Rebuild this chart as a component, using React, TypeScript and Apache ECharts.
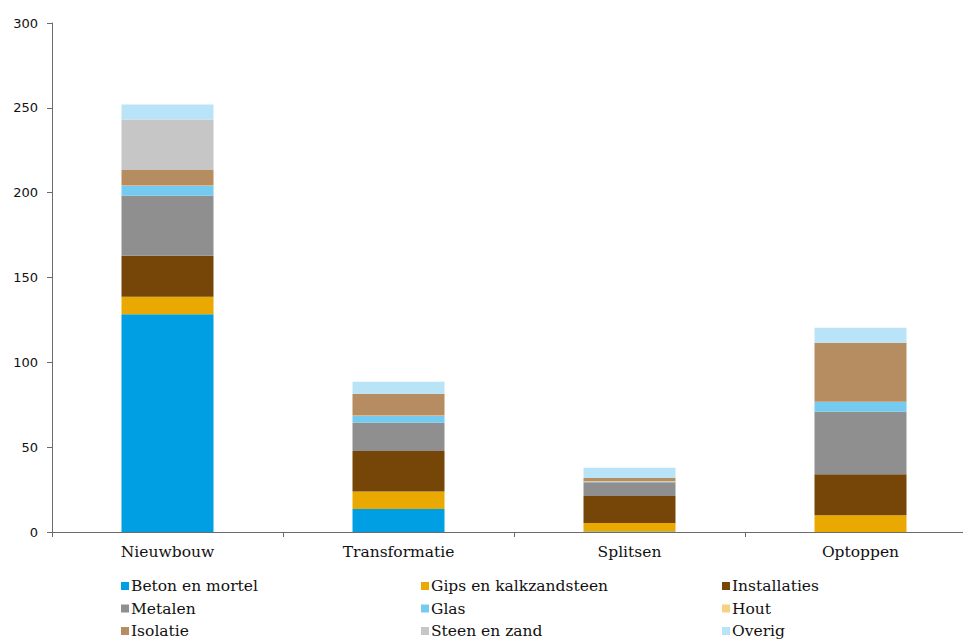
import React, { useEffect, useRef } from "react";
import * as echarts from "echarts";

// Bouwvormen op de x-as
const categories = ["Nieuwbouw", "Transformatie", "Splitsen", "Optoppen"];

// Materiaalgroepen (gestapeld, van onder naar boven)
const betonEnMortel = [128.3, 13.6, 0.3, 0];
const gipsEnKalkzandsteen = [10.4, 10.2, 5.0, 9.8];
const installaties = [24.1, 23.9, 15.9, 24.2];
const metalen = [35.4, 16.7, 8.1, 36.9];
const glas = [5.7, 4.0, 0.3, 5.7];
const hout = [0.3, 0.2, 0.3, 0.2];
const isolatie = [9.2, 12.9, 1.9, 34.8];
const steenEnZand = [29.7, 0, 0, 0];
const overig = [8.8, 7.1, 6.1, 8.8];

const yTicks = { min: 0, max: 300, interval: 50 };

const seriesDefs = [
  { name: "Beton en mortel", data: betonEnMortel, color: "#009FE3" },
  { name: "Gips en kalkzandsteen", data: gipsEnKalkzandsteen, color: "#E9A900" },
  { name: "Installaties", data: installaties, color: "#764608" },
  { name: "Metalen", data: metalen, color: "#8F8F90" },
  { name: "Glas", data: glas, color: "#74CAEF" },
  { name: "Hout", data: hout, color: "#F5D183" },
  { name: "Isolatie", data: isolatie, color: "#B68D60" },
  { name: "Steen en zand", data: steenEnZand, color: "#C6C6C7" },
  { name: "Overig", data: overig, color: "#B9E3F6" },
];

const legendColumns = [
  ["Beton en mortel", "Metalen", "Isolatie"],
  ["Gips en kalkzandsteen", "Glas", "Steen en zand"],
  ["Installaties", "Hout", "Overig"],
];
const legendLefts = [121, 421, 722];

const serif = "DejaVu Serif";

export default function App() {
  const ref = useRef<HTMLDivElement>(null);

  useEffect(() => {
    if (!ref.current) return;
    const chart = echarts.init(ref.current, undefined, { renderer: "svg" });
    chart.setOption({
      animation: false,
      backgroundColor: "#ffffff",
      grid: { left: 52, top: 23, right: 24, bottom: 107, containLabel: false },
      xAxis: {
        type: "category",
        data: categories,
        axisLine: { lineStyle: { color: "#6b6b6b", width: 1 } },
        axisTick: { show: true, length: 5, alignWithLabel: false, lineStyle: { color: "#6b6b6b" } },
        axisLabel: { color: "#111", fontFamily: serif, fontSize: 15.5, margin: 12 },
      },
      yAxis: {
        type: "value",
        min: yTicks.min,
        max: yTicks.max,
        interval: yTicks.interval,
        axisLine: { show: true, lineStyle: { color: "#6b6b6b", width: 1 } },
        axisTick: { show: true, length: 5, lineStyle: { color: "#6b6b6b" } },
        splitLine: { show: false },
        axisLabel: { color: "#111", fontFamily: "DejaVu Sans", fontSize: 13, margin: 14 },
      },
      legend: legendColumns.map((names, i) => ({
        orient: "vertical",
        left: legendLefts[i],
        top: 578,
        data: names,
        icon: "rect",
        itemWidth: 8,
        itemHeight: 8,
        itemGap: 6.5,
        padding: 0,
        selectedMode: false,
        textStyle: { color: "#111", fontFamily: serif, fontSize: 15.5, lineHeight: 16, padding: [0, 0, 0, -3] },
      })),
      series: seriesDefs.map((s) => ({
        name: s.name,
        type: "bar",
        stack: "totaal",
        data: s.data,
        barWidth: 92,
        itemStyle: { color: s.color },
      })),
    });
    return () => chart.dispose();
  }, []);

  return (
    <div style={{ position: "fixed", left: 0, top: 0, width: 963, height: 639, overflow: "hidden", background: "#fff" }}>
      <div ref={ref} style={{ width: 1000, height: 639 }} />
    </div>
  );
}
